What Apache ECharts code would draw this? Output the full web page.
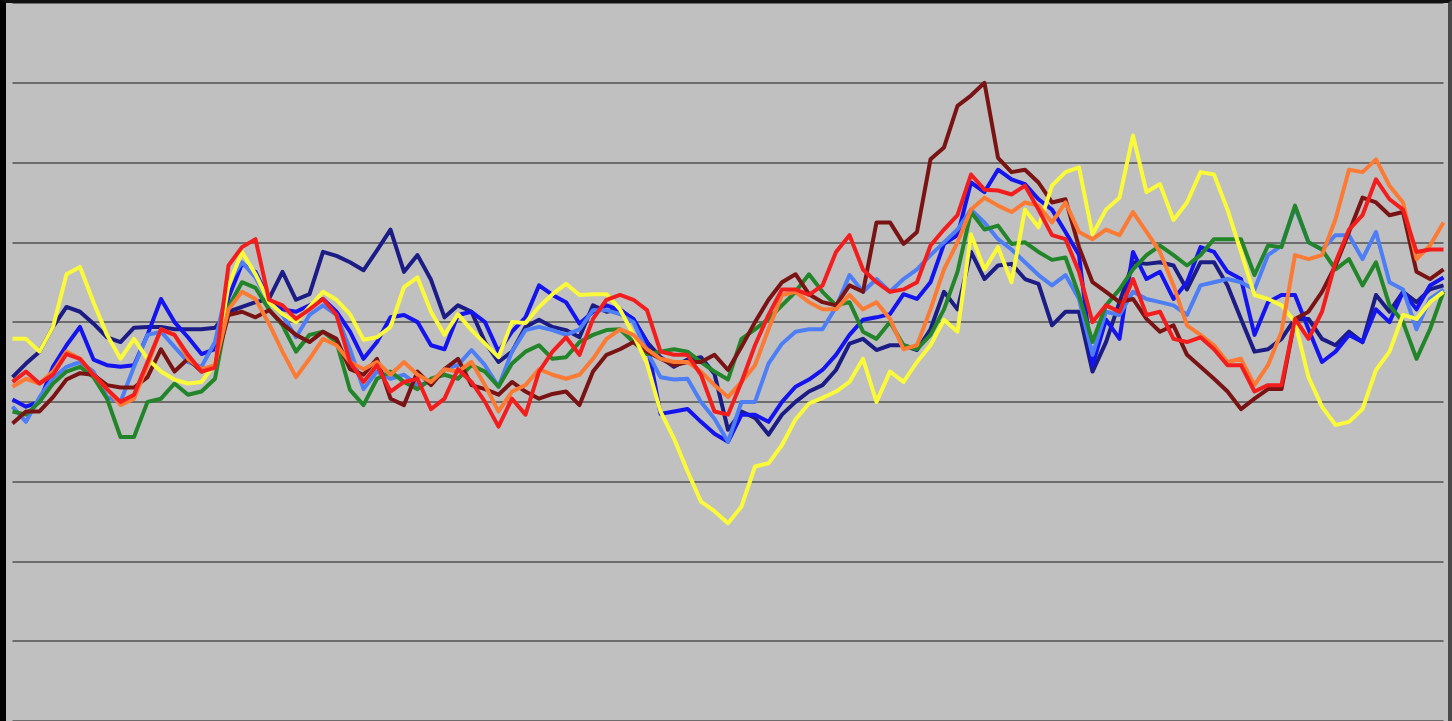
<!DOCTYPE html>
<html>
<head>
<meta charset="utf-8">
<script src="https://cdn.jsdelivr.net/npm/echarts@6/dist/echarts.min.js"></script>
<style>
  html, body { margin: 0; padding: 0; background: #c0c0c0; }
  #wrap {
    position: absolute; left: 0; top: 0;
    width: 1452px; height: 721px;
    box-sizing: border-box;
    border-left: 6px solid #000;
    border-top: 3px solid #111;
    border-right: 4px solid #4a4a4a;
    background: #c0c0c0;
  }
  #chart { width: 100%; height: 100%; }
</style>
</head>
<body>
<div id="wrap"><div id="chart"></div></div>
<script>
// 107 periods, no labels on the original
const periods = Array.from({ length: 107 }, (_, i) => 'P' + (i + 1))

const navy = [43.1, 44.8, 46.3, 49.4, 51.9, 51.3, 49.8, 48.1, 47.5, 49.3,
  49.4, 49.4, 49.1, 49.1, 49.1, 49.3, 51.3, 51.9, 52.5, 52.9,
  56.3, 52.8, 53.5, 58.8, 58.3, 57.5, 56.5, 59, 61.6, 56.3,
  58.4, 55.3, 50.6, 52.1, 51.3, 47.5, 45, 46.3, 49.4, 50.3,
  49.4, 49, 48.1, 52.1, 51.3, 51.6, 50.3, 47.5, 45.6, 44.4,
  45.3, 45.6, 43.5, 36.5, 38.8, 38, 35.9, 38.4, 40, 41.3,
  42.1, 44, 47.3, 47.9, 46.5, 47.1, 47.1, 46.5, 49.1, 53.8,
  51.6, 58.8, 55.4, 57.1, 57.3, 55.4, 54.8, 49.6, 51.3, 51.3,
  43.8, 47.5, 52.5, 57.5, 57.3, 57.5, 57.1, 54.1, 57.5, 57.5,
  54.6, 50.4, 46.3, 46.6, 47.9, 50.4, 50.4, 47.9, 47.1, 48.8,
  47.5, 53.4, 51.3, 53.8, 52.5, 54.1, 54.6]

const blue = [40.3, 39.4, 40, 44.4, 47.1, 49.4, 45.3, 44.6, 44.4, 44.6,
  48.4, 52.9, 50, 48.1, 46, 46.6, 53.1, 57.3, 56.3, 52.8,
  51.6, 51.3, 52.1, 52.9, 51.3, 48.8, 45.4, 47.5, 50.6, 50.9,
  50, 47.1, 46.6, 50.9, 51.3, 50, 46.3, 48.8, 50.6, 54.6,
  53.4, 52.5, 49.8, 51.3, 52.1, 51.5, 50.4, 47.5, 38.5, 38.8,
  39.1, 37.5, 36, 35, 38.4, 38.4, 37.5, 40, 41.9, 42.8,
  44, 45.9, 48.4, 50.3, 50.6, 51, 53.5, 52.9, 55, 59.8,
  60.9, 67.5, 66.3, 69.1, 67.9, 67.3, 65.4, 64.1, 61.3, 58.4,
  44.6, 50.3, 47.9, 58.8, 55.4, 56.3, 52.9, 55, 59.4, 58.8,
  56.3, 55.4, 48.4, 52.5, 53.4, 53.4, 49.1, 45, 46.3, 48.4,
  47.5, 51.6, 50, 53.8, 51.6, 54.6, 55.6]

const lightBlue = [39.4, 37.5, 40.6, 43, 44.4, 45, 43.8, 40.6, 40, 44.4,
  48.4, 48.8, 46.9, 45, 44.4, 47.5, 55, 57.5, 55.6, 52.5,
  50.9, 48.1, 50.9, 52.1, 50.9, 46.6, 41.6, 43.8, 42.9, 43.4,
  42.1, 42.5, 44.1, 44.6, 46.5, 44.6, 41.9, 46.3, 49, 49.4,
  49, 48.4, 49.1, 51.5, 51.5, 51, 50, 46.3, 43.1, 42.8,
  42.9, 40, 37.9, 35, 40, 40, 44.8, 47.3, 48.8, 49.1,
  49.1, 51.9, 55.9, 53.8, 55.4, 53.8, 55.4, 56.6, 58.4, 60,
  61.6, 64.1, 62.5, 60.4, 59.1, 57.5, 55.9, 54.6, 55.9, 52.9,
  45.9, 51.3, 50.9, 53.8, 52.9, 52.5, 52.1, 50.9, 54.6, 55,
  55.4, 55, 54.1, 58.4, 59.6, 64.4, 60, 59.1, 60.9, 60.9,
  57.9, 61.3, 55, 54.1, 49.1, 52.9, 54.1]

const green = [38.8, 38.4, 40, 42.3, 43.8, 44.4, 43.1, 40.4, 35.6, 35.6,
  40, 40.4, 42.3, 40.9, 41.3, 42.9, 51.9, 55, 54.3, 51.6,
  49.6, 46.3, 48.4, 48.8, 47.5, 41.5, 39.6, 42.9, 43.8, 42.5,
  41.6, 42.9, 43.4, 42.9, 44.6, 43.8, 41.9, 44.8, 46.3, 47.1,
  45.4, 45.6, 47.5, 48.4, 49, 49.1, 47.5, 46, 46.3, 46.6,
  46.3, 45, 43.8, 42.8, 47.9, 49.1, 50.4, 52.1, 53.8, 56,
  53.8, 52.1, 52.5, 48.8, 47.9, 50, 47.1, 46.6, 48.4, 51.6,
  56.3, 63.8, 61.6, 62.1, 59.8, 60, 58.8, 57.8, 58.1, 53.4,
  47.5, 52.1, 54.1, 56.6, 58.4, 59.6, 58.4, 57.1, 58.4, 60.4,
  60.4, 60.4, 55.9, 59.6, 59.4, 64.6, 60, 59.1, 56.6, 57.9,
  54.6, 57.5, 52.1, 50, 45.4, 49.1, 53.8]

const maroon = [37.3, 38.8, 38.8, 40.6, 42.8, 43.6, 43.4, 42.1, 41.8, 41.8,
  43.1, 46.6, 43.8, 45.4, 43.8, 44.6, 50.9, 51.3, 50.6, 51.5,
  49.8, 48.4, 47.5, 48.8, 47.9, 44.1, 43.4, 45.4, 40.4, 39.6,
  43.8, 42.1, 44.1, 45.4, 42.1, 41.6, 40.9, 42.5, 41.3, 40.4,
  41, 41.3, 39.6, 43.8, 45.9, 46.6, 47.5, 46.3, 45.4, 44.6,
  45, 45, 45.9, 44, 46.9, 50, 52.8, 55, 56, 53.5,
  52.5, 52.1, 54.6, 53.8, 62.5, 62.5, 59.8, 61.3, 70.4, 71.9,
  77.1, 78.4, 80, 70.6, 68.8, 69.1, 67.5, 65, 65.4, 59.4,
  55, 53.8, 52.5, 52.9, 50.4, 48.8, 49.6, 45.9, 44.4, 42.9,
  41.3, 39.1, 40.4, 41.6, 41.6, 50.4, 51.3, 53.8, 57.1, 61.3,
  65.6, 65, 63.4, 63.8, 56.3, 55.4, 56.6]

const yellow = [47.9, 47.9, 46.3, 49.4, 56, 56.9, 52.5, 48.4, 45.4, 47.9,
  45.4, 43.8, 42.8, 42.3, 42.5, 44.8, 54.6, 58.8, 56, 52.5,
  51, 50, 51.9, 53.8, 52.8, 51, 47.8, 48.1, 49.4, 54.4,
  55.6, 51.3, 48.4, 51, 49, 47.3, 45.6, 50, 49.9, 51.9,
  53.5, 54.8, 53.4, 53.5, 53.5, 51.6, 48.4, 44.8, 38.8, 35.4,
  31.3, 27.5, 26.3, 24.8, 26.9, 31.9, 32.3, 34.6, 37.8, 39.8,
  40.5, 41.3, 42.5, 45.4, 40, 43.8, 42.5, 45, 47.1, 50.3,
  48.8, 61, 56.6, 59.4, 55, 64.1, 61.9, 67.1, 68.8, 69.4,
  61, 64.1, 65.6, 73.4, 66.3, 67.3, 62.8, 65, 68.8, 68.5,
  64.1, 58.8, 53.4, 52.9, 52.1, 50, 43.1, 39.4, 37.1, 37.5,
  39.1, 44, 46.3, 50.9, 50.4, 52.5, 53.8]

const orange = [41.9, 42.9, 42.3, 43.8, 46.3, 45.4, 43.4, 41.6, 39.6, 40.4,
  44.6, 49.1, 48.4, 45.4, 44.1, 44.6, 51.6, 53.8, 52.9, 49.8,
  46.3, 43.1, 45.4, 47.9, 47.1, 45, 44.1, 45, 43.4, 45,
  43.4, 42.5, 44.1, 43.8, 45, 42.1, 38.8, 41.3, 42.1, 44.1,
  43.4, 42.9, 43.4, 45.4, 47.9, 49.1, 48.4, 46.6, 45.4, 45,
  45, 43.8, 42.1, 40.6, 42.5, 44.6, 49.1, 53.4, 53.8, 52.5,
  51.6, 51.6, 53.4, 51.6, 52.5, 50.4, 46.6, 47.1, 51.6, 56.6,
  60, 64.1, 65.6, 64.6, 63.8, 65, 64.6, 62.5, 65, 61.3,
  60.4, 61.6, 60.9, 63.8, 61.3, 58.8, 54.6, 49.6, 48.4, 47.1,
  45, 45.4, 42.1, 44.6, 48.8, 58.4, 57.9, 58.4, 62.9, 69.1,
  68.8, 70.4, 67.1, 65, 57.9, 59.6, 62.5]

const red = [42.5, 43.8, 42.3, 43.4, 46, 45.4, 43.4, 41.6, 40, 40.9,
  45, 49.1, 48.4, 45.9, 43.8, 44.3, 57.1, 59.4, 60.4, 52.8,
  52.1, 50.4, 51.6, 52.9, 50.9, 45, 42.5, 44.6, 41.3, 42.5,
  42.9, 39.1, 40.4, 44.1, 42.5, 40, 36.9, 40.4, 38.4, 43.8,
  46.3, 48.1, 45.9, 50.4, 52.8, 53.4, 52.8, 51.5, 46.3, 45.9,
  45.9, 43.4, 38.8, 38.4, 42.5, 47.1, 50.9, 54.1, 54.1, 53.4,
  54.6, 58.8, 60.9, 56.6, 55, 53.8, 54.1, 55, 59.6, 61.6,
  63.4, 68.5, 66.6, 66.5, 66, 67.1, 64.1, 60.9, 60.4, 56.3,
  50, 52.1, 51.3, 55.4, 50.9, 51.3, 47.9, 47.5, 48.1, 46.6,
  44.6, 44.6, 41.3, 42.1, 42.1, 50.4, 47.9, 51.3, 57.5, 61.6,
  63.4, 67.9, 65.4, 64.1, 58.8, 59.1, 59.1]

const seriesList = [
  { name: 'Navy', data: navy, color: '#1c1c86' },
  { name: 'Blue', data: blue, color: '#1414ee' },
  { name: 'Light blue', data: lightBlue, color: '#4d7ef5' },
  { name: 'Green', data: green, color: '#23852a' },
  { name: 'Maroon', data: maroon, color: '#7a1414' },
  { name: 'Yellow', data: yellow, color: '#fafa3a' },
  { name: 'Orange', data: orange, color: '#fb7a34' },
  { name: 'Red', data: red, color: '#f21e1e' }
]

const chart = echarts.init(document.getElementById('chart'))
chart.setOption({
  animation: false,
  backgroundColor: '#c0c0c0',
  grid: { left: 6.5, right: 4.5, top: 0, bottom: 0 },
  xAxis: {
    type: 'category',
    data: periods,
    boundaryGap: false,
    axisLine: { show: false },
    axisTick: { show: false },
    axisLabel: { show: false },
    splitLine: { show: false }
  },
  yAxis: {
    type: 'value',
    min: 0,
    max: 90,
    interval: 10,
    axisLine: { show: false },
    axisTick: { show: false },
    axisLabel: { show: false },
    splitLine: { lineStyle: { color: '#6c6c6c', width: 2 } }
  },
  series: seriesList.map(s => ({
    name: s.name,
    type: 'line',
    data: s.data,
    showSymbol: false,
    symbol: 'none',
    lineStyle: { color: s.color, width: 4, join: 'round' },
    itemStyle: { color: s.color }
  }))
})
</script>
</body>
</html>
